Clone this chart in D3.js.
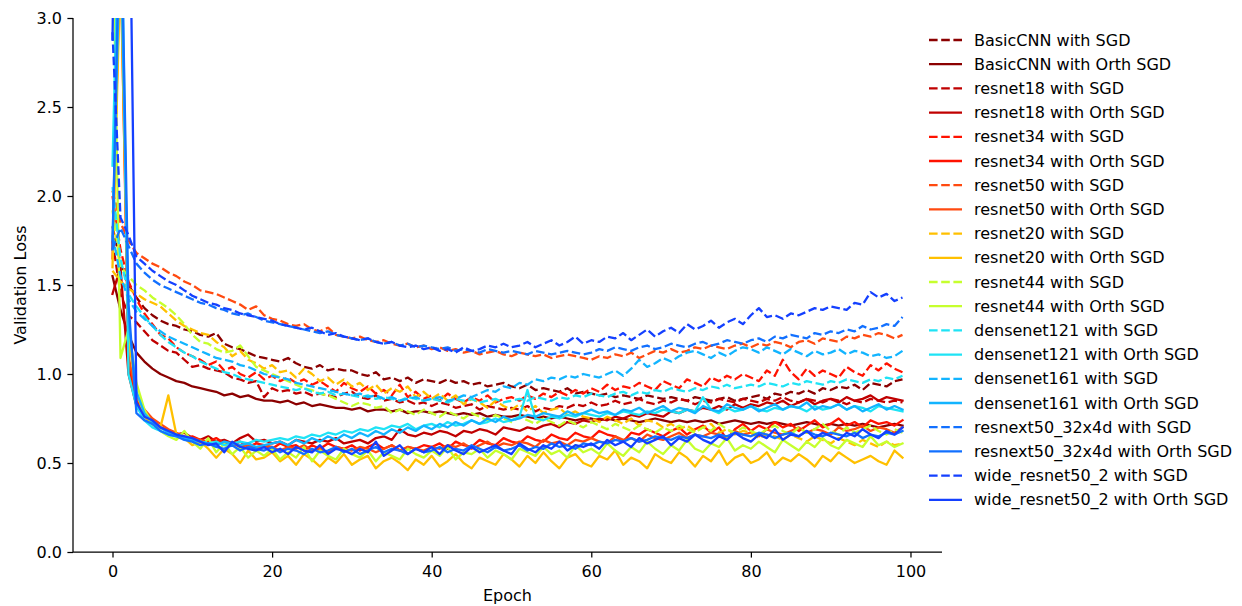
<!DOCTYPE html>
<html><head><meta charset="utf-8">
<script src="https://cdn.jsdelivr.net/npm/d3@7"></script>
<style>
html,body{margin:0;padding:0;background:#fff;}
svg{display:block;font-family:"DejaVu Sans",sans-serif;}
</style></head>
<body><svg id="chart" width="1242" height="606"></svg>
<script>
const xTicks = [0, 20, 40, 60, 80, 100];
const yTicks = [0, 0.5, 1.0, 1.5, 2.0, 2.5, 3.0];
const seriesNames = [
  "BasicCNN with SGD","BasicCNN with Orth SGD",
  "resnet18 with SGD","resnet18 with Orth SGD",
  "resnet34 with SGD","resnet34 with Orth SGD",
  "resnet50 with SGD","resnet50 with Orth SGD",
  "resnet20 with SGD","resnet20 with Orth SGD",
  "resnet44 with SGD","resnet44 with Orth SGD",
  "densenet121 with SGD","densenet121 with Orth SGD",
  "densenet161 with SGD","densenet161 with Orth SGD",
  "resnext50_32x4d with SGD","resnext50_32x4d with Orth SGD",
  "wide_resnet50_2 with SGD","wide_resnet50_2 with Orth SGD"
];
const modelColors = ["#8b0000","#c00000","#ff1200","#ff4a10","#ffc000","#c6ff2e","#1fe3f5","#12b4ff","#1270ff","#1440ff"];

const basicSGD = [1.83,1.62,1.50,1.43,1.37,1.33,1.30,1.28,1.27,1.25,
 1.24,1.22,1.21,1.23,1.17,1.15,1.14,1.12,1.10,1.09,
 1.08,1.07,1.09,1.06,1.04,1.03,1.05,1.02,1.03,1.02,
 1.02,1.00,0.99,1.01,0.97,0.98,0.96,0.98,0.95,0.97,
 0.96,0.95,0.97,0.95,0.96,0.94,0.95,0.93,0.94,0.95,
 0.93,0.92,0.94,0.91,0.92,0.91,0.90,0.92,0.89,0.90,
 0.89,0.88,0.89,0.87,0.88,0.87,0.86,0.88,0.87,0.86,
 0.87,0.86,0.85,0.87,0.86,0.85,0.86,0.87,0.85,0.86,
 0.87,0.88,0.86,0.89,0.88,0.90,0.89,0.91,0.89,0.92,
 0.91,0.93,0.92,0.94,0.91,0.95,0.94,0.93,0.96,0.97];
const basicOrth = [1.55,1.36,1.22,1.12,1.07,1.03,1.00,0.98,0.96,0.95,
 0.93,0.92,0.91,0.90,0.88,0.89,0.87,0.88,0.86,0.85,
 0.85,0.84,0.85,0.83,0.84,0.82,0.83,0.82,0.81,0.81,
 0.80,0.81,0.79,0.80,0.80,0.79,0.80,0.78,0.79,0.79,
 0.78,0.79,0.78,0.77,0.78,0.77,0.78,0.76,0.77,0.76,
 0.76,0.77,0.76,0.75,0.76,0.75,0.76,0.75,0.74,0.75,
 0.75,0.74,0.75,0.74,0.75,0.74,0.73,0.74,0.75,0.74,
 0.73,0.74,0.73,0.74,0.73,0.74,0.72,0.73,0.74,0.73,
 0.72,0.73,0.72,0.73,0.72,0.71,0.72,0.73,0.72,0.71,
 0.72,0.71,0.72,0.71,0.72,0.71,0.70,0.71,0.72,0.71];
const r18SGD = [1.75,1.45,1.33,1.29,1.24,1.19,1.16,1.13,1.12,1.08,
 1.04,1.05,1.03,1.02,1.01,0.98,0.97,0.95,0.96,0.87,
 0.92,0.90,0.91,0.89,0.90,0.88,0.89,0.88,0.87,0.89,
 0.90,0.87,0.86,0.88,0.85,0.86,0.84,0.85,0.83,0.84,
 0.82,0.84,0.83,0.81,0.82,0.83,0.80,0.82,0.81,0.80,
 0.81,0.80,0.82,0.79,0.81,0.80,0.82,0.81,0.83,0.82,
 0.84,0.82,0.83,0.85,0.83,0.84,0.86,0.84,0.83,0.85,
 0.84,0.86,0.85,0.83,0.85,0.84,0.86,0.85,0.84,0.86,
 0.85,0.84,0.86,0.85,0.87,0.85,0.84,0.86,0.85,0.84,
 0.86,0.85,0.83,0.85,0.84,0.86,0.85,0.84,0.85,0.84];
const r18Orth = [1.45,1.60,1.00,0.82,0.76,0.72,0.70,0.68,0.66,0.67,
 0.64,0.63,0.65,0.62,0.63,0.61,0.64,0.66,0.62,0.63,
 0.61,0.62,0.60,0.63,0.62,0.61,0.63,0.62,0.64,0.61,
 0.62,0.63,0.61,0.64,0.65,0.63,0.69,0.66,0.65,0.67,
 0.66,0.68,0.67,0.65,0.68,0.67,0.69,0.68,0.66,0.70,
 0.69,0.68,0.70,0.69,0.71,0.72,0.70,0.73,0.72,0.74,
 0.73,0.75,0.74,0.76,0.75,0.77,0.76,0.78,0.77,0.76,
 0.79,0.78,0.80,0.79,0.81,0.80,0.82,0.80,0.83,0.81,
 0.83,0.82,0.84,0.83,0.85,0.82,0.84,0.86,0.83,0.85,
 0.86,0.84,0.87,0.85,0.86,0.88,0.85,0.87,0.86,0.85];
const r34SGD = [2.00,1.70,1.52,1.42,1.34,1.28,1.22,1.20,1.15,1.12,
 1.10,1.08,1.05,1.07,1.02,1.04,1.00,0.98,1.01,0.97,
 0.99,0.96,0.98,0.95,0.97,0.94,0.96,0.93,0.90,0.95,
 0.92,0.90,0.93,0.89,0.91,0.88,0.94,0.87,0.90,0.86,
 0.88,0.85,0.89,0.86,0.84,0.87,0.85,0.88,0.84,0.86,
 0.87,0.85,0.88,0.86,0.89,0.87,0.90,0.88,0.91,0.89,
 0.92,0.90,0.94,0.91,0.93,0.92,0.95,0.93,0.91,0.96,
 0.94,0.92,0.97,0.95,0.93,0.98,0.96,0.99,0.97,1.00,
 0.98,0.96,1.02,0.99,1.08,1.01,0.97,1.03,0.99,1.02,
 1.00,0.98,1.04,1.01,0.99,1.05,1.02,1.06,1.03,1.01];
const r34Orth = [1.70,3.40,1.05,0.85,0.78,0.74,0.70,0.68,0.66,0.64,
 0.65,0.63,0.62,0.64,0.61,0.60,0.62,0.59,0.61,0.60,
 0.58,0.61,0.59,0.60,0.57,0.60,0.58,0.61,0.59,0.58,
 0.60,0.57,0.59,0.61,0.58,0.60,0.57,0.59,0.58,0.60,
 0.59,0.61,0.58,0.62,0.60,0.59,0.63,0.61,0.60,0.64,
 0.62,0.61,0.65,0.63,0.62,0.66,0.64,0.63,0.67,0.65,
 0.64,0.68,0.66,0.65,0.62,0.67,0.66,0.69,0.67,0.65,
 0.68,0.70,0.66,0.69,0.71,0.67,0.70,0.63,0.69,0.72,
 0.68,0.71,0.69,0.73,0.70,0.72,0.68,0.71,0.74,0.70,
 0.72,0.75,0.71,0.73,0.70,0.74,0.72,0.73,0.71,0.74];
const r50SGD = [2.03,1.85,1.75,1.68,1.65,1.62,1.60,1.57,1.55,1.52,
 1.50,1.47,1.46,1.45,1.43,1.41,1.39,1.36,1.38,1.33,
 1.31,1.30,1.28,1.27,1.28,1.25,1.24,1.26,1.22,1.21,
 1.20,1.21,1.19,1.18,1.19,1.17,1.16,1.17,1.15,1.16,
 1.14,1.15,1.13,1.14,1.12,1.13,1.11,1.12,1.13,1.11,
 1.10,1.12,1.11,1.10,1.11,1.09,1.10,1.11,1.10,1.09,
 1.08,1.10,1.09,1.11,1.10,1.12,1.09,1.11,1.13,1.12,
 1.14,1.12,1.13,1.15,1.14,1.16,1.15,1.14,1.16,1.17,
 1.15,1.17,1.16,1.18,1.17,1.15,1.18,1.19,1.17,1.20,
 1.19,1.18,1.21,1.20,1.22,1.21,1.23,1.22,1.20,1.22];
const r50Orth = [1.65,3.60,1.10,0.88,0.80,0.75,0.72,0.69,0.67,0.65,
 0.64,0.63,0.61,0.62,0.60,0.61,0.59,0.60,0.58,0.60,
 0.59,0.57,0.59,0.58,0.60,0.57,0.58,0.56,0.59,0.58,
 0.57,0.59,0.58,0.56,0.58,0.60,0.57,0.59,0.58,0.57,
 0.59,0.58,0.60,0.59,0.61,0.58,0.60,0.62,0.59,0.61,
 0.60,0.62,0.61,0.59,0.63,0.61,0.62,0.60,0.63,0.62,
 0.64,0.62,0.61,0.65,0.63,0.64,0.62,0.66,0.64,0.63,
 0.65,0.67,0.64,0.66,0.65,0.67,0.66,0.64,0.68,0.66,
 0.67,0.65,0.69,0.67,0.66,0.68,0.70,0.67,0.69,0.68,
 0.66,0.70,0.68,0.69,0.71,0.68,0.70,0.69,0.67,0.70];
const r20SGD = [1.58,1.52,1.48,1.45,1.42,1.40,1.38,1.34,1.30,1.27,
 1.25,1.23,1.22,1.18,1.15,1.10,1.13,1.08,1.06,1.03,
 1.05,1.01,1.02,0.98,1.03,1.00,0.96,0.98,0.94,0.97,
 0.93,0.95,0.91,0.94,0.89,0.92,0.90,0.93,0.87,0.90,
 0.86,0.89,0.85,0.88,0.83,0.86,0.84,0.81,0.85,0.82,
 0.80,0.83,0.79,0.82,0.78,0.80,0.81,0.77,0.79,0.76,
 0.75,0.73,0.76,0.74,0.72,0.75,0.71,0.74,0.73,0.70,
 0.72,0.69,0.71,0.68,0.70,0.72,0.67,0.69,0.66,0.68,
 0.67,0.64,0.66,0.65,0.63,0.66,0.64,0.62,0.65,0.63,
 0.61,0.64,0.62,0.60,0.63,0.61,0.59,0.62,0.60,0.61];
const r20Orth = [1.60,3.30,1.20,0.90,0.76,0.72,0.70,0.88,0.66,0.64,
 0.60,0.62,0.58,0.53,0.58,0.55,0.50,0.57,0.52,0.53,
 0.56,0.51,0.54,0.49,0.55,0.52,0.48,0.53,0.50,0.55,
 0.49,0.52,0.54,0.47,0.51,0.53,0.50,0.46,0.52,0.49,
 0.54,0.48,0.51,0.55,0.50,0.47,0.53,0.51,0.49,0.55,
 0.52,0.48,0.54,0.50,0.56,0.51,0.47,0.53,0.55,0.50,
 0.48,0.54,0.52,0.57,0.49,0.53,0.51,0.47,0.55,0.52,
 0.50,0.56,0.53,0.48,0.54,0.51,0.57,0.49,0.53,0.55,
 0.50,0.52,0.56,0.49,0.53,0.51,0.55,0.52,0.48,0.54,
 0.51,0.56,0.53,0.50,0.52,0.54,0.51,0.49,0.57,0.53];
const r44SGD = [1.92,1.60,1.55,1.50,1.47,1.43,1.40,1.37,1.33,1.28,
 1.22,1.18,1.17,1.14,1.12,1.13,1.16,1.10,1.04,1.02,
 1.00,0.98,0.96,0.94,0.92,0.91,0.89,0.88,0.86,0.84,
 0.82,0.84,0.83,0.81,0.82,0.78,0.80,0.79,0.77,0.80,
 0.78,0.76,0.79,0.77,0.75,0.78,0.76,0.74,0.77,0.75,
 0.73,0.76,0.74,0.72,0.75,0.73,0.71,0.74,0.72,0.70,
 0.73,0.71,0.69,0.72,0.70,0.68,0.71,0.69,0.67,0.70,
 0.68,0.71,0.69,0.67,0.70,0.68,0.72,0.69,0.67,0.70,
 0.68,0.66,0.69,0.71,0.68,0.66,0.70,0.67,0.69,0.72,
 0.68,0.66,0.70,0.67,0.69,0.71,0.68,0.66,0.69,0.67];
const r44Orth = [3.60,1.09,1.25,0.95,0.80,0.72,0.68,0.65,0.63,0.68,
 0.62,0.58,0.64,0.56,0.61,0.55,0.59,0.53,0.57,0.54,
 0.58,0.52,0.56,0.53,0.59,0.51,0.57,0.54,0.52,0.58,
 0.55,0.53,0.57,0.51,0.56,0.54,0.52,0.58,0.55,0.53,
 0.57,0.54,0.59,0.52,0.56,0.55,0.58,0.53,0.57,0.55,
 0.52,0.58,0.56,0.54,0.59,0.55,0.57,0.53,0.60,0.56,
 0.58,0.55,0.61,0.57,0.54,0.59,0.56,0.62,0.58,0.55,
 0.60,0.57,0.63,0.58,0.56,0.61,0.59,0.64,0.57,0.60,
 0.58,0.62,0.59,0.56,0.63,0.60,0.57,0.62,0.59,0.64,
 0.60,0.58,0.63,0.61,0.59,0.65,0.60,0.62,0.59,0.61];
const d121SGD = [2.05,1.65,1.45,1.38,1.32,1.27,1.22,1.18,1.15,1.12,
 1.10,1.07,1.05,1.03,1.01,1.00,0.98,0.97,0.96,0.95,
 0.94,0.93,0.92,0.91,0.92,0.90,0.89,0.90,0.88,0.89,
 0.88,0.87,0.88,0.86,0.87,0.86,0.85,0.87,0.86,0.85,
 0.86,0.85,0.84,0.86,0.85,0.86,0.84,0.85,0.86,0.84,
 0.85,0.86,0.85,0.87,0.86,0.85,0.87,0.86,0.88,0.87,
 0.89,0.88,0.87,0.89,0.90,0.88,0.90,0.89,0.91,0.90,
 0.92,0.91,0.90,0.92,0.91,0.93,0.92,0.94,0.92,0.93,
 0.94,0.93,0.95,0.94,0.93,0.95,0.94,0.96,0.95,0.94,
 0.96,0.95,0.97,0.96,0.95,0.97,0.96,0.98,0.97,0.99];
const d121Orth = [2.17,4.00,1.00,0.82,0.74,0.70,0.68,0.66,0.65,0.64,
 0.63,0.62,0.61,0.62,0.60,0.61,0.62,0.61,0.63,0.62,
 0.63,0.64,0.63,0.65,0.64,0.66,0.65,0.67,0.66,0.68,
 0.67,0.69,0.68,0.70,0.69,0.71,0.70,0.72,0.69,0.71,
 0.72,0.70,0.73,0.71,0.72,0.74,0.72,0.73,0.75,0.73,
 0.74,0.76,0.91,0.75,0.74,0.76,0.75,0.77,0.76,0.78,
 0.77,0.76,0.78,0.77,0.79,0.78,0.77,0.79,0.78,0.80,
 0.79,0.78,0.80,0.79,0.87,0.80,0.78,0.81,0.79,0.80,
 0.82,0.80,0.79,0.81,0.80,0.82,0.81,0.79,0.82,0.80,
 0.81,0.83,0.80,0.82,0.81,0.79,0.82,0.81,0.80,0.79];
const d161SGD = [1.78,1.55,1.42,1.35,1.31,1.27,1.24,1.21,1.19,1.17,
 1.15,1.13,1.11,1.09,1.08,1.07,1.05,1.04,1.02,1.00,
 0.99,0.98,0.97,0.95,0.94,0.93,0.92,0.91,0.90,0.89,
 0.88,0.89,0.87,0.88,0.86,0.87,0.85,0.86,0.87,0.85,
 0.86,0.87,0.85,0.86,0.88,0.87,0.89,0.91,0.90,0.93,
 0.92,0.95,0.94,0.97,0.96,0.98,0.97,0.99,0.98,1.00,
 0.99,0.98,1.00,1.02,0.99,1.03,1.08,1.04,1.06,1.09,
 1.07,1.10,1.12,1.13,1.11,1.09,1.12,1.10,1.13,1.15,
 1.14,1.12,1.15,1.13,1.11,1.14,1.12,1.10,1.13,1.11,
 1.12,1.14,1.11,1.13,1.12,1.10,1.11,1.09,1.10,1.13];
const d161Orth = [1.75,3.50,1.30,0.90,0.78,0.73,0.70,0.67,0.66,0.64,
 0.63,0.62,0.61,0.60,0.62,0.61,0.60,0.61,0.59,0.60,
 0.61,0.62,0.60,0.63,0.61,0.64,0.62,0.65,0.63,0.66,
 0.64,0.67,0.65,0.68,0.66,0.69,0.67,0.70,0.68,0.71,
 0.69,0.72,0.70,0.73,0.71,0.74,0.72,0.75,0.73,0.76,
 0.74,0.75,0.77,0.76,0.78,0.77,0.76,0.79,0.77,0.78,
 0.80,0.78,0.79,0.77,0.80,0.79,0.81,0.78,0.80,0.82,
 0.79,0.81,0.80,0.78,0.82,0.80,0.79,0.83,0.81,0.80,
 0.82,0.79,0.81,0.83,0.80,0.82,0.81,0.84,0.80,0.82,
 0.81,0.83,0.80,0.82,0.79,0.81,0.83,0.80,0.82,0.80];
const rx50SGD = [1.70,1.82,1.72,1.62,1.57,1.53,1.50,1.48,1.46,1.44,
 1.42,1.40,1.39,1.37,1.36,1.34,1.33,1.34,1.32,1.30,
 1.29,1.28,1.27,1.26,1.25,1.24,1.23,1.24,1.22,1.21,
 1.20,1.19,1.20,1.18,1.17,1.18,1.16,1.17,1.15,1.16,
 1.15,1.14,1.15,1.13,1.14,1.13,1.12,1.14,1.13,1.12,
 1.13,1.12,1.11,1.13,1.12,1.11,1.12,1.13,1.12,1.11,
 1.12,1.14,1.13,1.15,1.14,1.13,1.15,1.16,1.14,1.15,
 1.17,1.16,1.15,1.17,1.18,1.16,1.17,1.19,1.18,1.17,
 1.19,1.20,1.18,1.21,1.20,1.22,1.21,1.20,1.23,1.22,
 1.24,1.23,1.25,1.24,1.27,1.25,1.26,1.28,1.27,1.32];
const rx50Orth = [1.70,3.80,1.40,0.78,0.74,0.72,0.68,0.66,0.65,0.63,
 0.62,0.60,0.61,0.59,0.58,0.60,0.57,0.59,0.58,0.57,
 0.59,0.56,0.58,0.57,0.55,0.58,0.56,0.57,0.59,0.56,
 0.58,0.55,0.57,0.59,0.56,0.58,0.57,0.55,0.58,0.56,
 0.57,0.59,0.56,0.58,0.57,0.60,0.58,0.56,0.59,0.57,
 0.58,0.60,0.57,0.59,0.58,0.61,0.59,0.60,0.58,0.61,
 0.60,0.62,0.61,0.63,0.62,0.64,0.62,0.63,0.65,0.64,
 0.63,0.65,0.64,0.66,0.65,0.64,0.66,0.65,0.67,0.66,
 0.65,0.67,0.66,0.64,0.66,0.67,0.65,0.68,0.66,0.65,
 0.67,0.66,0.65,0.67,0.64,0.66,0.65,0.67,0.66,0.68];
const wrnSGD = [2.92,1.88,1.78,1.66,1.62,1.58,1.55,1.52,1.50,1.47,
 1.44,1.42,1.40,1.39,1.37,1.36,1.34,1.33,1.32,1.31,
 1.30,1.28,1.27,1.26,1.25,1.26,1.24,1.22,1.23,1.21,
 1.20,1.19,1.20,1.18,1.17,1.18,1.16,1.15,1.16,1.14,
 1.15,1.13,1.14,1.12,1.15,1.13,1.14,1.16,1.15,1.17,
 1.15,1.16,1.18,1.15,1.17,1.19,1.16,1.18,1.21,1.17,
 1.19,1.18,1.21,1.20,1.23,1.19,1.22,1.25,1.21,1.24,
 1.26,1.23,1.28,1.25,1.27,1.30,1.26,1.29,1.31,1.28,
 1.33,1.37,1.32,1.33,1.31,1.34,1.33,1.35,1.37,1.36,
 1.38,1.37,1.36,1.40,1.39,1.46,1.43,1.45,1.41,1.43];
const wrnOrth = [2.88,6.00,4.30,0.84,0.76,0.74,0.70,0.68,0.66,0.65,
 0.64,0.62,0.60,0.61,0.56,0.62,0.59,0.58,0.57,0.59,
 0.56,0.58,0.55,0.59,0.57,0.56,0.60,0.55,0.58,0.57,
 0.55,0.58,0.56,0.62,0.54,0.57,0.60,0.55,0.58,0.56,
 0.59,0.55,0.60,0.57,0.55,0.59,0.56,0.58,0.60,0.57,
 0.55,0.61,0.58,0.56,0.60,0.58,0.62,0.57,0.60,0.59,
 0.61,0.58,0.63,0.60,0.62,0.59,0.64,0.61,0.63,0.65,
 0.60,0.64,0.62,0.66,0.63,0.61,0.65,0.63,0.67,0.64,
 0.62,0.66,0.64,0.69,0.63,0.66,0.65,0.68,0.64,0.67,
 0.65,0.63,0.67,0.65,0.69,0.66,0.64,0.68,0.66,0.70];

const seriesValues = [basicSGD, basicOrth, r18SGD, r18Orth, r34SGD, r34Orth, r50SGD, r50Orth,
  r20SGD, r20Orth, r44SGD, r44Orth, d121SGD, d121Orth, d161SGD, d161Orth,
  rx50SGD, rx50Orth, wrnSGD, wrnOrth];

const series = seriesNames.map((name, i) => ({
  name, values: seriesValues[i], color: modelColors[Math.floor(i / 2)], dashed: i % 2 === 0
}));

const svg = d3.select("#chart");
const L = 73, R = 942, T = 18, B = 552;
const x = d3.scaleLinear().domain([-4.95, 103.95]).range([L, R]);
const y = d3.scaleLinear().domain([0, 3]).range([B, T]);
const FS = "16px";
const LW = 2.3;
const DASH = "8.6,3.6";

svg.append("defs").append("clipPath").attr("id", "clip")
  .append("rect").attr("x", L).attr("y", T).attr("width", R - L).attr("height", B - T);

const line = d3.line().x((d, i) => x(i)).y(d => y(d));
const gLines = svg.append("g").attr("clip-path", "url(#clip)");
series.forEach(s => {
  gLines.append("path").datum(s.values)
    .attr("d", line).attr("fill", "none")
    .attr("stroke", s.color).attr("stroke-width", LW)
    .attr("stroke-linejoin", "round")
    .attr("stroke-linecap", s.dashed ? "butt" : "square")
    .attr("stroke-dasharray", s.dashed ? DASH : null);
});

// axes
const xAxis = svg.append("g").attr("transform", `translate(0,${B})`)
  .call(d3.axisBottom(x).tickValues(xTicks).tickFormat(d3.format("d")).tickSizeOuter(0).tickSize(5.6).tickPadding(8.4));
const yAxis = svg.append("g").attr("transform", `translate(${L},0)`)
  .call(d3.axisLeft(y).tickValues(yTicks).tickFormat(d3.format(".1f")).tickSizeOuter(0).tickSize(5.6).tickPadding(5.4));
[xAxis, yAxis].forEach(a => {
  a.select(".domain").attr("stroke", "#000").attr("stroke-width", 1.25);
  a.selectAll(".tick line").attr("stroke", "#000").attr("stroke-width", 1.25);
  a.selectAll(".tick text").attr("fill", "#000").style("font-size", FS).style("font-family", "DejaVu Sans");
});
xAxis.select(".domain").attr("d", `M${L},0H${R}`);
yAxis.select(".domain").attr("d", `M0,${B}V${T}`);

svg.append("text").attr("x", (L + R) / 2).attr("y", 601).attr("text-anchor", "middle")
  .style("font-size", FS).attr("fill", "#000").text("Epoch");
svg.append("text").attr("transform", `translate(26,${(T + B) / 2}) rotate(-90)`).attr("text-anchor", "middle")
  .style("font-size", FS).attr("fill", "#000").text("Validation Loss");

// legend
const lg = svg.append("g");
series.forEach((s, i) => {
  const yy = 40 + i * 24.2;
  lg.append("line").attr("x1", 929).attr("x2", 962).attr("y1", yy).attr("y2", yy)
    .attr("stroke", s.color).attr("stroke-width", LW)
    .attr("stroke-dasharray", s.dashed ? DASH : null);
  lg.append("text").attr("x", 974).attr("y", yy).attr("dy", "0.35em")
    .style("font-size", FS).attr("fill", "#000").text(s.name);
});
</script></body></html>
